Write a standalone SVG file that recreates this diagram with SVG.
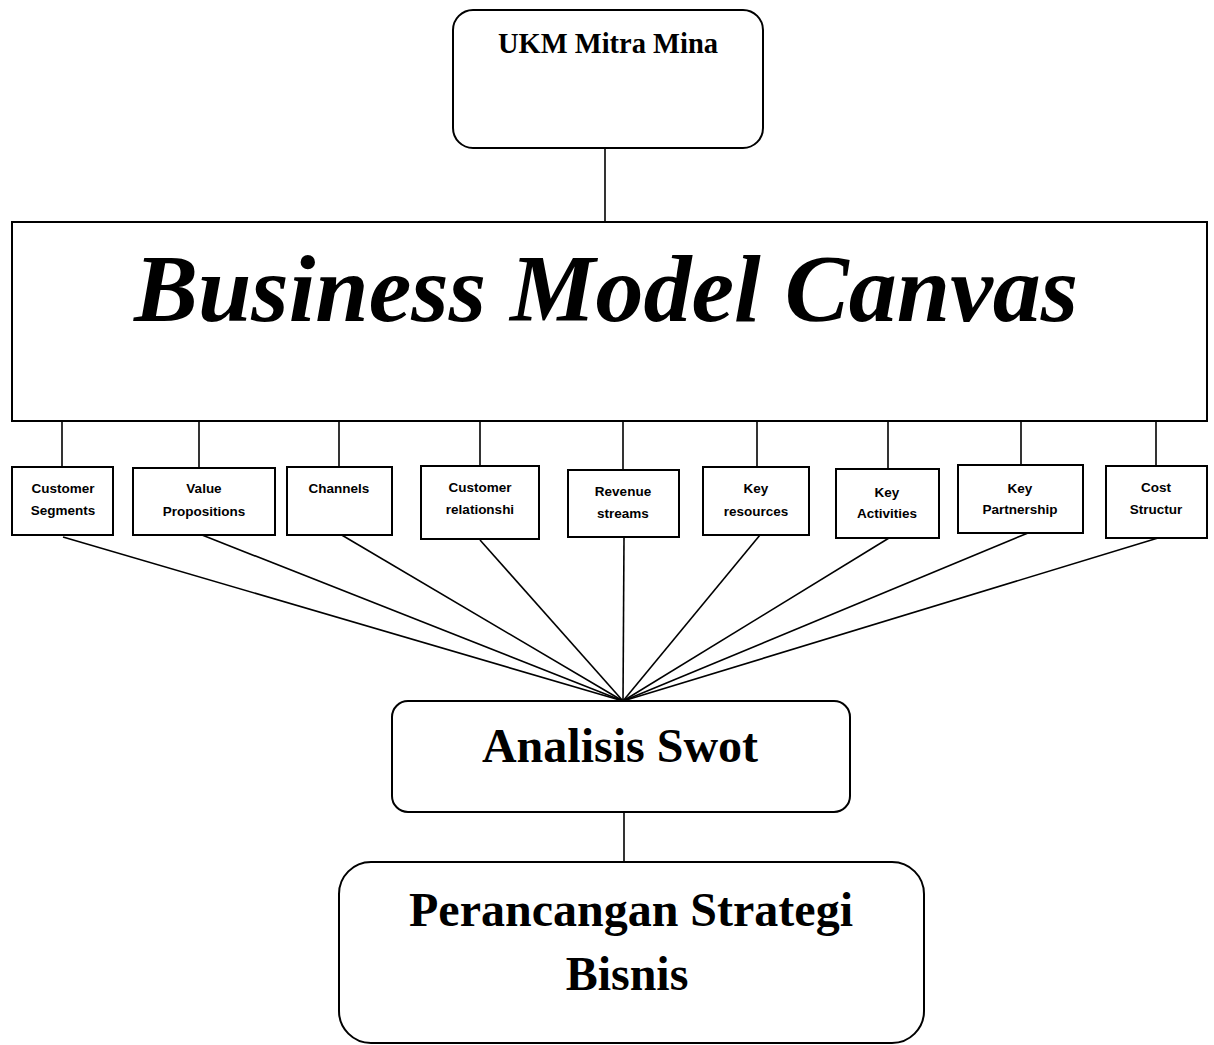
<svg xmlns="http://www.w3.org/2000/svg" width="1214" height="1045" viewBox="0 0 1214 1045">
<style>
.box{fill:#fff;stroke:#000;stroke-width:2}
.ln{stroke:#000;stroke-width:1.6;fill:none}
.serif{font-family:"Liberation Serif","Times New Roman",serif;font-weight:bold;fill:#000;text-anchor:middle}
.sm{font-family:"Liberation Sans",Arial,sans-serif;font-weight:bold;font-size:13.5px;fill:#000;text-anchor:middle}
</style>
<rect width="1214" height="1045" fill="#fff"/>
<g id="connectors">
<line class="ln" x1="605" y1="148" x2="605" y2="222"/>
<line class="ln" x1="62" y1="421" x2="62" y2="467"/>
<line class="ln" x1="199" y1="421" x2="199" y2="468"/>
<line class="ln" x1="339" y1="421" x2="339" y2="467"/>
<line class="ln" x1="480" y1="421" x2="480" y2="466"/>
<line class="ln" x1="623" y1="421" x2="623" y2="470"/>
<line class="ln" x1="757" y1="421" x2="757" y2="467"/>
<line class="ln" x1="888" y1="421" x2="888" y2="469"/>
<line class="ln" x1="1021" y1="421" x2="1021" y2="465"/>
<line class="ln" x1="1156" y1="421" x2="1156" y2="466"/>
<line class="ln" x1="63" y1="537" x2="623" y2="701"/>
<line class="ln" x1="197" y1="533" x2="623" y2="701"/>
<line class="ln" x1="340" y1="534" x2="623" y2="701"/>
<line class="ln" x1="480" y1="540" x2="623" y2="701"/>
<line class="ln" x1="624" y1="538" x2="623" y2="701"/>
<line class="ln" x1="760" y1="535" x2="623" y2="701"/>
<line class="ln" x1="889" y1="538" x2="623" y2="701"/>
<line class="ln" x1="1028" y1="533" x2="623" y2="701"/>
<line class="ln" x1="1158" y1="538" x2="623" y2="701"/>
<line class="ln" x1="624" y1="813" x2="624" y2="862"/>
</g>
<g id="ukm">
<rect class="box" x="453" y="10" width="310" height="138" rx="20"/>
<text class="serif" x="608" y="53" font-size="28.5">UKM Mitra Mina</text>
</g>
<g id="bmc">
<rect class="box" x="12" y="222" width="1195" height="199"/>
<text class="serif" x="606" y="321" font-size="96" font-style="italic">Business Model Canvas</text>
</g>
<g id="customer-segments">
<rect class="box" x="12" y="467" width="101" height="68"/>
<text class="sm" x="63" y="493">Customer</text>
<text class="sm" x="63" y="515">Segments</text>
</g>
<g id="value-propositions">
<rect class="box" x="133" y="468" width="142" height="67"/>
<text class="sm" x="204" y="493">Value</text>
<text class="sm" x="204" y="516">Propositions</text>
</g>
<g id="channels">
<rect class="box" x="287" y="467" width="105" height="68"/>
<text class="sm" x="339" y="493">Channels</text>
</g>
<g id="customer-relationship">
<rect class="box" x="421" y="466" width="118" height="73"/>
<text class="sm" x="480" y="492">Customer</text>
<text class="sm" x="480" y="514">relationshi</text>
</g>
<g id="revenue-streams">
<rect class="box" x="568" y="470" width="111" height="67"/>
<text class="sm" x="623" y="496">Revenue</text>
<text class="sm" x="623" y="518">streams</text>
</g>
<g id="key-resources">
<rect class="box" x="703" y="467" width="106" height="68"/>
<text class="sm" x="756" y="493">Key</text>
<text class="sm" x="756" y="516">resources</text>
</g>
<g id="key-activities">
<rect class="box" x="836" y="469" width="103" height="69"/>
<text class="sm" x="887" y="497">Key</text>
<text class="sm" x="887" y="518">Activities</text>
</g>
<g id="key-partnership">
<rect class="box" x="958" y="465" width="125" height="68"/>
<text class="sm" x="1020" y="493">Key</text>
<text class="sm" x="1020" y="514">Partnership</text>
</g>
<g id="cost-structure">
<rect class="box" x="1106" y="466" width="101" height="72"/>
<text class="sm" x="1156" y="492">Cost</text>
<text class="sm" x="1156" y="514">Structur</text>
</g>
<g id="analisis-swot">
<rect class="box" x="392" y="701" width="458" height="111" rx="16"/>
<text class="serif" x="620" y="762" font-size="48">Analisis Swot</text>
</g>
<g id="perancangan">
<rect class="box" x="339" y="862" width="585" height="181" rx="32"/>
<text class="serif" x="631" y="926" font-size="48">Perancangan Strategi</text>
<text class="serif" x="627" y="990" font-size="48">Bisnis</text>
</g>
</svg>
